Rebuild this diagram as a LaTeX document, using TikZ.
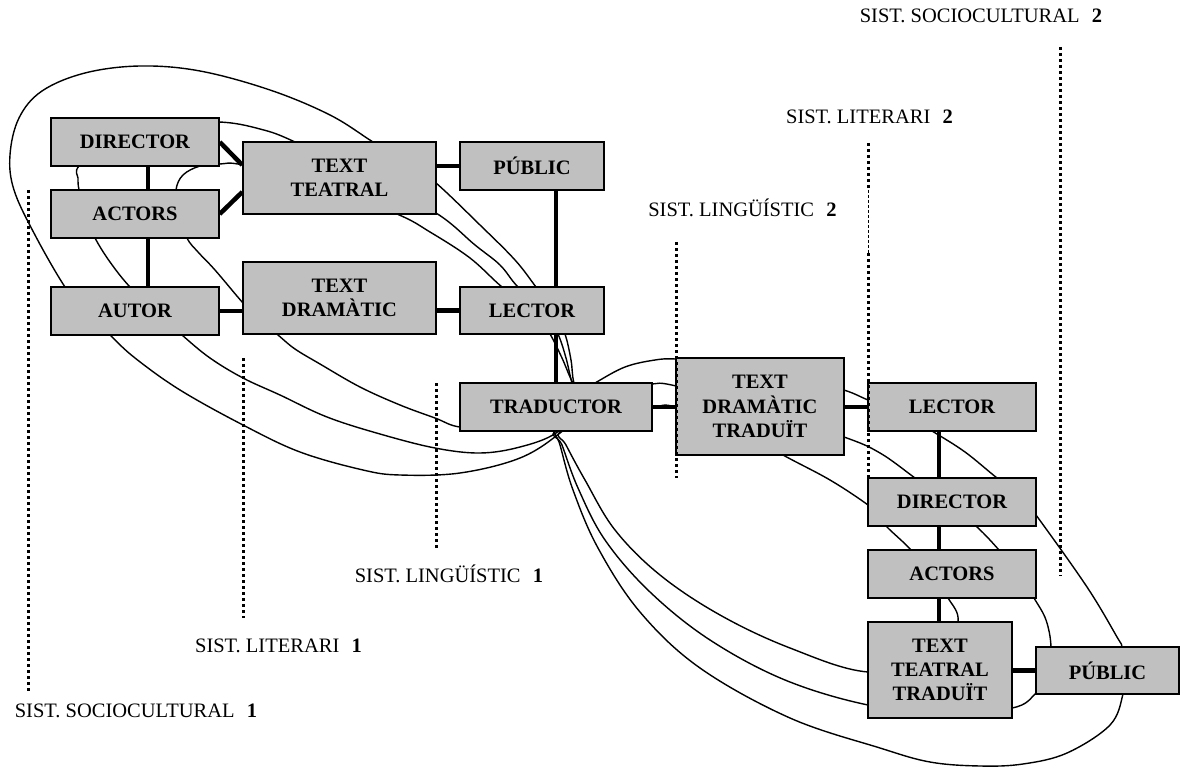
\documentclass[tikz,border=0pt]{standalone}
\usepackage{fontspec}
\setmainfont{Liberation Serif}
\definecolor{boxgray}{HTML}{C0C0C0}
\begin{document}
\begin{tikzpicture}[x=1pt,y=-1pt,
  box/.style={draw=black, line width=1.5pt, fill=boxgray, align=center, inner sep=0pt,
    font=\fontsize{20.5}{24.3}\selectfont\bfseries},
  conn/.style={line width=4.5pt},
  loopline/.style={line width=1.4pt},
  sysline/.style={line width=3pt, dash pattern=on 3pt off 3pt},
  thinsys/.style={line width=1pt, dash pattern=on 3pt off 2pt},
  lbl/.style={anchor=base, inner sep=0pt, font=\fontsize{20.5}{24}\selectfont}]
\useasboundingbox (0,0) rectangle (1180,767);

% ---------- loops (system boundaries) ----------
\draw[loopline] plot[smooth cycle, tension=0.6] coordinates {
 (584,408) (560,433) (520,458) (460,473) (400,475) (363,470) (300,452) (243,425)
 (180,390) (135,358) (110,335) (85,310) (65,287) (35,235) (14,190) (10,155) (19,118)
 (42,91) (85,73) (140,66) (200,71) (270,90) (330,115) (373,142) (410,165) (436,183)
 (480,225) (515,260) (536,287) (555,312) (565,334) (571,360) (574,383)};
\draw[loopline] plot[smooth cycle, tension=0.6] coordinates {
 (580,406) (556,433) (520,447) (480,453) (435,448) (380,434) (327,417) (280,395)
 (243,378) (210,358) (182,335) (155,310) (130,287) (110,262) (95,238) (85,215)
 (79,190) (78,178) (79,166) (110,140) (160,125) (219,122) (260,129) (295,142)
 (370,180) (436,213) (475,245) (500,265) (518,287) (545,310) (558,334) (566,358) (572,383)};
\draw[loopline] plot[smooth cycle, tension=0.6] coordinates {
 (586,400) (545,420) (500,426) (460,427) (435,418) (400,405) (360,387) (320,364)
 (295,349) (278,335) (258,318) (243,303) (215,270) (198,252) (187,238) (178,212)
 (176,190) (183,175) (200,166) (220,164) (243,165) (320,185) (397,214) (430,232)
 (470,258) (502,287) (535,312) (550,334) (562,358) (573,383)};
\draw[loopline] plot[smooth cycle, tension=0.6] coordinates {
 (555,428) (570,398) (595,383) (625,367) (655,360) (676,359) (720,362) (790,374)
 (844,390) (868,400) (905,415) (932,431) (965,452) (997,478) (1020,495) (1036,515)
 (1087,587) (1117,637) (1122,647) (1125,670) (1123,694) (1110,725) (1067,753)
 (1023,764) (980,766) (930,762) (880,748) (790,718) (700,668) (640,612) (598,548)
 (573,490) (560,445)};
\draw[loopline] plot[smooth cycle, tension=0.6] coordinates {
 (556,430) (610,400) (640,389) (652,384) (676,386) (760,410) (844,437) (880,453)
 (915,478) (945,500) (977,527) (999,550) (1020,575) (1034,598) (1046,620) (1051,647)
 (1048,675) (1036,693) (1012,708) (940,712) (868,705) (785,680) (710,640) (650,592)
 (605,540) (578,488) (562,445)};
\draw[loopline] plot[smooth cycle, tension=0.6] coordinates {
 (560,432) (600,412) (652,407) (676,407) (740,430) (783,455) (830,480) (868,505)
 (880,517) (887,527) (911,550) (930,575) (948,598) (958,622) (940,660) (868,672)
 (790,648) (720,615) (660,575) (615,530) (585,480) (566,445)};

% ---------- boxes ----------
\node[box, minimum width=168pt, minimum height=48pt] (dir1) at (135,142) {DIRECTOR};
\node[box, minimum width=168pt, minimum height=48pt] (act1) at (135,214) {ACTORS};
\node[box, minimum width=168pt, minimum height=48pt] (aut1) at (135,311) {AUTOR};
\node[box, minimum width=193pt, minimum height=72pt] (tt1) at (339.5,178) {TEXT\\TEATRAL};
\node[box, minimum width=193pt, minimum height=72pt] (td1) at (339.5,298) {TEXT\\DRAMÀTIC};
\node[box, minimum width=144pt, minimum height=48pt] (pub1) at (532,166) {PÚBLIC};
\node[box, minimum width=144pt, minimum height=47pt] (lec1) at (532,310.5) {LECTOR};
\node[box, minimum width=192pt, minimum height=48pt] (trad) at (556,407) {TRADUCTOR};
\node[box, minimum width=168pt, minimum height=97pt] (tdt) at (760,406.5) {TEXT\\DRAMÀTIC\\TRADUÏT};
\node[box, minimum width=168pt, minimum height=48pt] (lec2) at (952,407) {LECTOR};
\node[box, minimum width=168pt, minimum height=48pt] (dir2) at (952,502) {DIRECTOR};
\node[box, minimum width=168pt, minimum height=48pt] (act2) at (952,574) {ACTORS};
\node[box, minimum width=144pt, minimum height=96pt] (ttt) at (940,670) {TEXT\\TEATRAL\\TRADUÏT};
\node[box, minimum width=143pt, minimum height=47pt] (pub2) at (1107.5,670.5) {PÚBLIC};

% ---------- connectors ----------
\coordinate (va) at (148,0);
\coordinate (vb) at (556,0);
\coordinate (vc) at (939,0);
\draw[conn] (dir1.south -| va) -- (act1.north -| va);
\draw[conn] (act1.south -| va) -- (aut1.north -| va);
\draw[conn] (dir1.east) -- ([yshift=13pt]tt1.west);
\draw[conn] (act1.east) -- ([yshift=-14pt]tt1.west);
\draw[conn] (aut1.east) -- (aut1.east -| td1.west);
\draw[conn] (tt1.east |- pub1.west) -- (pub1.west);
\draw[conn] (td1.east |- lec1.west) -- (lec1.west);
\draw[conn] (pub1.south -| vb) -- (lec1.north -| vb);
\draw[conn] (lec1.south -| vb) -- (trad.north -| vb);
\draw[conn] (trad.east) -- (trad.east -| tdt.west);
\draw[conn] (tdt.east |- lec2.west) -- (lec2.west);
\draw[conn] (lec2.south -| vc) -- (dir2.north -| vc);
\draw[conn] (dir2.south -| vc) -- (act2.north -| vc);
\draw[conn] (act2.south -| vc) -- (ttt.north -| vc);
\draw[conn] (ttt.east |- pub2.west) -- (pub2.west);

% ---------- system boundary lines ----------
\draw[sysline] (28,190) -- (28,693);
\draw[sysline] (243,358) -- (243,618);
\draw[sysline] (436,383) -- (436,548);
\draw[sysline] (676,242) -- (676,478);
\draw[sysline] (868,143) -- (868,190);
\draw[thinsys] (868,190) -- (868,253);
\draw[sysline] (868,253) -- (868,478);
\draw[sysline] (1060,47) -- (1060,576);

% ---------- labels ----------
\node[lbl] (s2) at (981,23) {SIST. SOCIOCULTURAL\hspace{0.6em}\textbf{2}};
\node[lbl] (l2) at (869.5,124) {SIST. LITERARI\hspace{0.6em}\textbf{2}};
\node[lbl] (g2) at (742.5,217) {SIST. LINGÜÍSTIC\hspace{0.6em}\textbf{2}};
\node[lbl] (g1) at (449,582) {SIST. LINGÜÍSTIC\hspace{0.6em}\textbf{1}};
\node[lbl] (l1) at (278.5,652) {SIST. LITERARI\hspace{0.6em}\textbf{1}};
\node[lbl] (s1) at (136,717) {SIST. SOCIOCULTURAL\hspace{0.6em}\textbf{1}};
\end{tikzpicture}
\end{document}
